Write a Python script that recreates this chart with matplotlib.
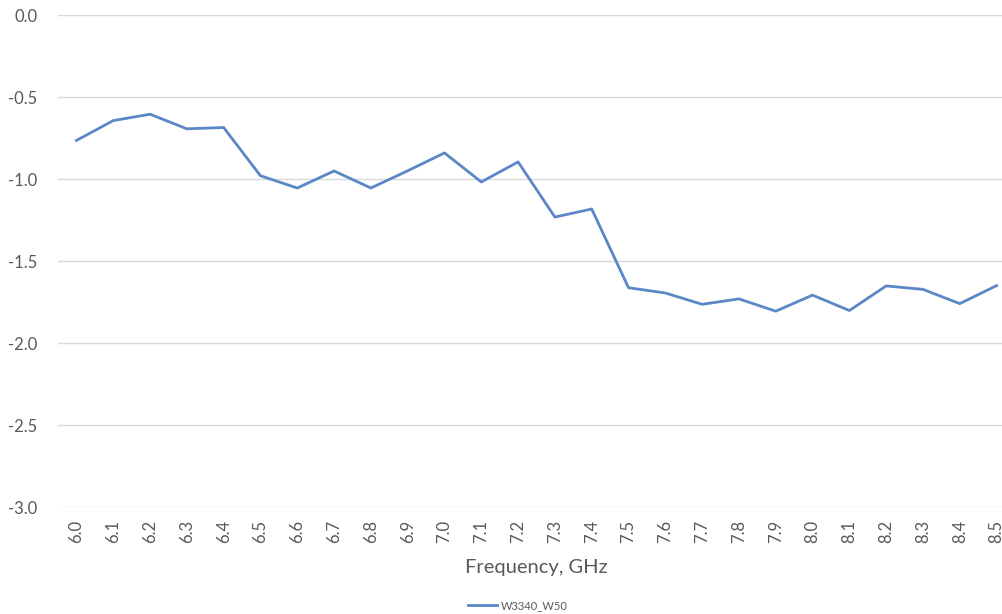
import matplotlib
matplotlib.use("Agg")
import matplotlib.pyplot as plt

# data
freq_labels = ["6.0", "6.1", "6.2", "6.3", "6.4", "6.5", "6.6", "6.7", "6.8", "6.9",
               "7.0", "7.1", "7.2", "7.3", "7.4", "7.5", "7.6", "7.7", "7.8", "7.9",
               "8.0", "8.1", "8.2", "8.3", "8.4", "8.5"]
w3340_w50 = [-0.765, -0.644, -0.605, -0.694, -0.686, -0.980, -1.055, -0.951, -1.055, -0.950,
             -0.841, -1.018, -0.896, -1.232, -1.183, -1.663, -1.695, -1.764, -1.731, -1.806,
             -1.708, -1.802, -1.652, -1.673, -1.760, -1.650]

plt.rcParams["font.family"] = ["Lato", "DejaVu Sans"]

fig = plt.figure(figsize=(10.02, 6.14), dpi=100)
W, H = 1002, 614
ax = fig.add_axes([58 / W, (H - 507) / H, (1015 - 58) / W, 492 / H])

x = list(range(len(freq_labels)))
ax.plot(x, w3340_w50, color="#5A87C5", linewidth=2.0, label="W3340_W50")

ax.set_xlim(-0.5, len(freq_labels) - 0.5)
ax.set_ylim(-3.0, 0.0)
ax.set_yticks([0.0, -0.5, -1.0, -1.5, -2.0, -2.5, -3.0])
ax.set_yticklabels(["0.0", "-0.5", "-1.0", "-1.5", "-2.0", "-2.5", "-3.0"])
ax.set_xticks(x)
ax.set_xticklabels(freq_labels, rotation=90)

ax.grid(axis="y", color="#D9D9D9", linewidth=1.0)
ax.set_axisbelow(True)
for s in ax.spines.values():
    s.set_visible(False)
ax.tick_params(axis="both", length=0, colors="#595959", labelsize=12)
ax.tick_params(axis="y", pad=15)
ax.tick_params(axis="x", pad=9)

ax.set_xlabel("Frequency, GHz", fontsize=14.5, color="#595959", labelpad=12)

fig.legend(loc="lower center", bbox_to_anchor=(0.517, -0.012), frameon=False,
           fontsize=8, labelcolor="#595959", handlelength=2.6, handletextpad=0.3)

fig.savefig("out.png", dpi=100)
